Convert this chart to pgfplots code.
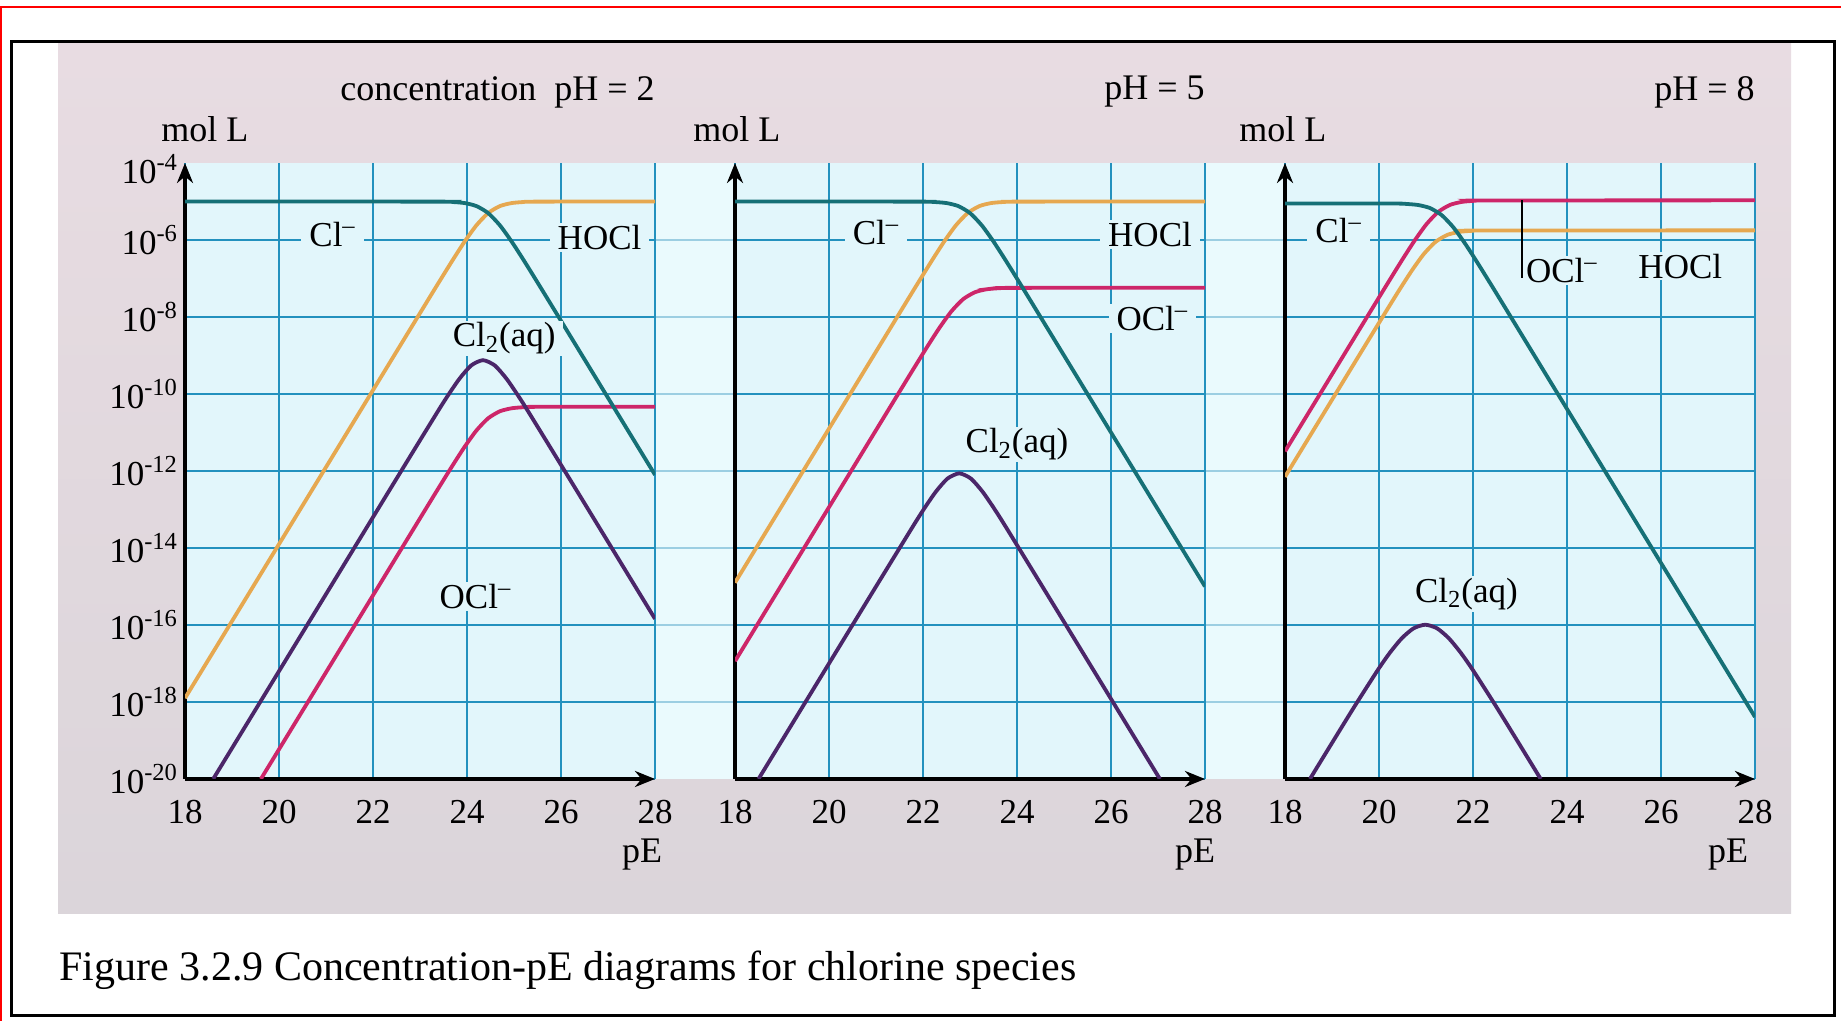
\documentclass[border=0pt]{standalone}
\usepackage{pgfplots}
\pgfplotsset{compat=1.18}
\usepackage{fontspec}
\setmainfont{Liberation Serif}
\usetikzlibrary{arrows.meta}
\definecolor{clm}{RGB}{22,112,118}
\definecolor{hocl}{RGB}{230,168,80}
\definecolor{ocl}{RGB}{205,38,105}
\definecolor{cltwo}{RGB}{75,38,105}
\definecolor{gridc}{RGB}{35,145,190}
\definecolor{plotbg}{RGB}{226,246,251}
\definecolor{gapbg}{RGB}{234,250,253}
\definecolor{graytop}{RGB}{232,220,226}
\definecolor{graybot}{RGB}{219,213,218}
\newcommand\lf{\fontsize{17.5}{21}\selectfont}
\newcommand\tf{\fontsize{18}{22}\selectfont}
\tikzset{lab/.style={fill=plotbg, inner xsep=4pt, inner ysep=1pt, font=\lf}}
\pgfplotsset{
  panel/.style={
    scale only axis, width=235pt, height=308pt,
    xmin=18, xmax=28, ymin=-20, ymax=-4,
    axis lines=left,
    axis line style={line width=1.8pt, -{Stealth[length=10pt,width=8pt]}},
    xtick={18,20,...,28}, ytick={-20,-18,...,-6},
    major tick length=0pt,
    grid=major,
    major grid style={line width=1.1pt, gridc},
    /pgf/number format/assume math mode=true,
    tick label style={font=\lf},
    xticklabel style={anchor=center, yshift=-16.5pt},
    every axis plot/.append style={line width=1.9pt, smooth, tension=0.4},
    anchor=south west,
  },
}
\begin{document}
\begin{tikzpicture}
\useasboundingbox (0,0) rectangle (920.5pt,510.5pt);
\fill[white] (0,0) rectangle (920.5pt,510.5pt);
\draw[red, line width=1pt] (0,507pt) -- (920.5pt,507pt);
\draw[red, line width=1pt] (0.5pt,0) -- (0.5pt,507pt);
\shade[top color=graytop, bottom color=graybot] (29pt,53.5pt) rectangle (895.5pt,488.5pt);
\fill[plotbg] (92.5pt,121pt) rectangle (877.5pt,429pt);
\fill[gapbg] (327.5pt,121pt) rectangle (367.5pt,429pt);
\fill[gapbg] (602.5pt,121pt) rectangle (642.5pt,429pt);
\foreach \yy in {159.5,198,236.5,275,313.5,352,390.5} {
  \draw[gridc!45, line width=1pt] (327.5pt,\yy pt) -- (367.5pt,\yy pt);
  \draw[gridc!45, line width=1pt] (602.5pt,\yy pt) -- (642.5pt,\yy pt);
}
\draw[black, line width=1.5pt] (5.5pt,2.5pt) rectangle (917pt,489.5pt);

% ---------- pH = 2 ----------
\begin{axis}[panel, at={(92.5pt,121pt)},
  yticklabels={10\textsuperscript{-20},10\textsuperscript{-18},10\textsuperscript{-16},10\textsuperscript{-14},10\textsuperscript{-12},10\textsuperscript{-10},10\textsuperscript{-8},10\textsuperscript{-6}},
  extra y ticks={-4}, extra y tick labels={10\textsuperscript{-4}},
  extra y tick style={grid=none, yticklabel style={yshift=-3pt}}]
\addplot[hocl] coordinates {(18,-17.9) (22.95,-8.0) (23.45,-7.004) (23.7,-6.513) (23.95,-6.041) (24.2,-5.619) (24.45,-5.301) (24.7,-5.119) (24.95,-5.041) (25.2,-5.014) (25.45,-5.004) (28,-5)};
\addplot[ocl] coordinates {(19.615,-20) (22.95,-13.33) (23.45,-12.334) (23.7,-11.843) (23.95,-11.371) (24.2,-10.949) (24.45,-10.631) (24.7,-10.449) (24.95,-10.371) (25.2,-10.344) (25.45,-10.334) (28,-10.33)};
\addplot[cltwo] coordinates {(18.6,-20) (22.34,-12.52) (23.34,-10.529) (23.59,-10.047) (23.84,-9.603) (24.09,-9.258) (24.34,-9.122) (24.59,-9.258) (24.84,-9.603) (25.09,-10.047) (25.34,-10.529) (26.34,-12.52) (28,-15.84)};
\addplot[clm] coordinates {(18,-5) (23.45,-5.004) (23.7,-5.014) (23.95,-5.041) (24.2,-5.119) (24.45,-5.301) (24.7,-5.619) (24.95,-6.041) (25.2,-6.513) (25.45,-7.004) (25.95,-8.0) (28,-12.1)};
\node[lab] at (axis cs:21.14,-5.85) {Cl\textsuperscript{–}};
\node[lab] at (axis cs:26.82,-5.93) {HOCl};
\node[lab] at (axis cs:24.79,-8.56) {Cl\textsubscript{2}(aq)};
\node[lab] at (axis cs:24.18,-15.26) {OCl\textsuperscript{–}};
\end{axis}

% ---------- pH = 5 ----------
\begin{axis}[panel, at={(367.5pt,121pt)}, yticklabels={}]
\addplot[hocl] coordinates {(18,-14.9) (21.45,-8.0) (21.95,-7.004) (22.2,-6.513) (22.45,-6.041) (22.7,-5.619) (22.95,-5.301) (23.2,-5.119) (23.45,-5.041) (23.7,-5.014) (23.95,-5.004) (28,-5)};
\addplot[ocl] coordinates {(18,-16.94) (21.35,-10.24) (21.85,-9.244) (22.1,-8.753) (22.35,-8.281) (22.6,-7.859) (22.85,-7.541) (23.1,-7.359) (23.35,-7.281) (23.6,-7.254) (23.85,-7.244) (28,-7.24)};
\addplot[cltwo] coordinates {(18.5,-20) (20.77,-15.46) (21.77,-13.469) (22.02,-12.987) (22.27,-12.543) (22.52,-12.198) (22.77,-12.062) (23.02,-12.198) (23.27,-12.543) (23.52,-12.987) (23.77,-13.469) (24.77,-15.46) (27.04,-20)};
\addplot[clm] coordinates {(18,-5) (22,-5.004) (22.25,-5.014) (22.5,-5.041) (22.75,-5.119) (23,-5.301) (23.25,-5.619) (23.5,-6.041) (23.75,-6.513) (24,-7.004) (24.5,-8.0) (28,-15.0)};
\node[lab] at (axis cs:21.0,-5.8) {Cl\textsuperscript{–}};
\node[lab] at (axis cs:26.83,-5.86) {HOCl};
\node[lab] at (axis cs:26.88,-8.04) {OCl\textsuperscript{–}};
\node[lab] at (axis cs:24.0,-11.31) {Cl\textsubscript{2}(aq)};
\end{axis}

% ---------- pH = 8 ----------
\begin{axis}[panel, at={(642.5pt,121pt)}, yticklabels={}]
\addplot[hocl] coordinates {(18,-12.15) (19.7,-8.75) (20.2,-7.754) (20.45,-7.263) (20.7,-6.791) (20.95,-6.369) (21.2,-6.051) (21.45,-5.869) (21.7,-5.791) (21.95,-5.764) (22.2,-5.754) (28,-5.75)};
\addplot[ocl] coordinates {(18,-11.49) (19.76,-7.97) (20.26,-6.974) (20.51,-6.483) (20.76,-6.011) (21.01,-5.589) (21.26,-5.271) (21.51,-5.089) (21.76,-5.011) (22.01,-4.984) (22.26,-4.974) (28,-4.97)};
\addplot[cltwo] coordinates {(18.53,-20) (18.985,-19.093) (19.485,-18.103) (19.985,-17.149) (20.235,-16.714) (20.485,-16.344) (20.735,-16.087) (20.985,-15.993) (21.235,-16.087) (21.485,-16.344) (21.735,-16.714) (21.985,-17.149) (22.485,-18.103) (22.985,-19.093) (23.44,-20)};
\addplot[clm] coordinates {(18,-5.05) (20.33,-5.054) (20.58,-5.064) (20.83,-5.091) (21.08,-5.169) (21.33,-5.351) (21.58,-5.669) (21.83,-6.091) (22.08,-6.563) (22.33,-7.054) (22.83,-8.05) (28,-18.39)};
\node[lab] at (axis cs:19.14,-5.75) {Cl\textsuperscript{–}};
\node[lab] at (axis cs:23.89,-6.79) {OCl\textsuperscript{–}};
\node[lab] at (axis cs:26.41,-6.68) {HOCl};
\node[lab] at (axis cs:21.86,-15.2) {Cl\textsubscript{2}(aq)};
\draw[black, line width=1pt] (axis cs:23.05,-4.97) -- (axis cs:23.05,-7.0);
\end{axis}

% ---------- titles and labels ----------
\node[anchor=east, inner sep=0pt, font=\tf] at (327.5pt,464.5pt) {concentration\ \ pH = 2};
\node[anchor=east, inner sep=0pt, font=\tf] at (602.5pt,464.5pt) {pH = 5};
\node[anchor=east, inner sep=0pt, font=\tf] at (877.5pt,464.5pt) {pH = 8};
\node[anchor=west, inner sep=0pt, font=\tf] at (80.5pt,446pt) {mol L};
\node[anchor=west, inner sep=0pt, font=\tf] at (346.5pt,446pt) {mol L};
\node[anchor=west, inner sep=0pt, font=\tf] at (619.5pt,446pt) {mol L};
\node[font=\tf] at (321pt,83pt) {pE};
\node[font=\tf] at (597.5pt,83pt) {pE};
\node[font=\tf] at (864pt,83pt) {pE};
\node[anchor=base west, inner sep=0pt, font=\fontsize{21}{25}\selectfont] at (29.5pt,20pt) {Figure 3.2.9 Concentration-pE diagrams for chlorine species};
\end{tikzpicture}
\end{document}
